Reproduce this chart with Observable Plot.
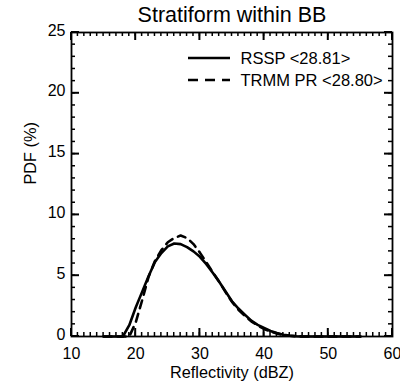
<!DOCTYPE html>
<html>
<head>
<meta charset="utf-8">
<script src="https://cdn.jsdelivr.net/npm/d3@7"></script>
<script src="https://cdn.jsdelivr.net/npm/@observablehq/plot@0.6"></script>
<style>
  html, body { margin: 0; padding: 0; background: #fff; }
  svg { display: block; }
</style>
</head>
<body>
<div id="chart"></div>
<script>
const title = "Stratiform within BB";
const xLabel = "Reflectivity (dBZ)";
const yLabel = "PDF (%)";
const seriesNames = ["RSSP <28.81>", "TRMM PR <28.80>"];
const xTicks = [10, 20, 30, 40, 50, 60];
const yTicks = [0, 5, 10, 15, 20, 25];

const dbz = [15,16,17,18,19,20,21,22,23,24,25,26,27,28,29,30,31,32,33,34,35,36,37,38,39,40,41,42,43,44,45,46,47,48,49,50,51,52,53,54,55];
const rssp = [0,0,0,0,0.93,2.39,3.67,4.96,6.13,6.86,7.41,7.65,7.6,7.35,7.0,6.55,5.95,5.25,4.5,3.7,2.9,2.3,1.8,1.3,0.95,0.7,0.45,0.28,0.15,0.07,0.02,0,0,0,0,0,0,0,0,0,0];
const trmm = [0,0,0,0,0,1.15,2.97,4.9,6.2,7.1,7.75,8.1,8.3,8.1,7.6,6.9,6.1,5.3,4.5,3.65,2.85,2.2,1.7,1.25,0.9,0.62,0.4,0.24,0.13,0.06,0.02,0,0,0,0,0,0,0,0,0,0];

const rowsR = dbz.map((x, i) => ({x, y: rssp[i]}));
const rowsT = dbz.map((x, i) => ({x, y: trmm[i]}));

const W = 400, H = 389, mL = 71, mR = 8, mT = 32, mB = 53;
const xDom = [10, 60], yDom = [0, 25];
const font = "Liberation Sans, Arial, sans-serif";
const minorX = d3.range(10, 61, 1);
const minorY = d3.range(0, 26, 1);

const plot = Plot.plot({
  width: W,
  height: H,
  marginLeft: mL,
  marginRight: mR,
  marginTop: mT,
  marginBottom: mB,
  style: {fontFamily: font, fontSize: "16px", background: "#fff", color: "#000"},
  x: {domain: xDom},
  y: {domain: yDom},
  marks: [
    Plot.axisX({anchor: "bottom", ticks: xTicks, tickSize: 0, tickPadding: 11, label: null, fontSize: 16}),
    Plot.axisY({anchor: "left", ticks: yTicks, tickSize: 0, tickPadding: 6, label: null, fontSize: 16, dy: -2}),
    Plot.line(rowsR, {x: "x", y: "y", stroke: "#000", strokeWidth: 2.6}),
    Plot.line(rowsT, {x: "x", y: "y", stroke: "#000", strokeWidth: 2.6, strokeDasharray: "8,6"}),
    Plot.frame({stroke: "#000", fill: "none", strokeWidth: 1.8}),
    Plot.text([title], {text: d => d, frameAnchor: "top", lineAnchor: "middle", dy: -17, fontSize: 21.5}),
    Plot.text([xLabel], {text: d => d, frameAnchor: "bottom", lineAnchor: "middle", dy: 36, fontSize: 16.3}),
    Plot.text([yLabel], {text: d => d, frameAnchor: "left", lineAnchor: "middle", dx: -41, rotate: -90, fontSize: 16.3}),
    Plot.text([seriesNames[0]], {text: d => d, frameAnchor: "top-left", lineAnchor: "middle", dx: 169, dy: 26, textAnchor: "start", fontSize: 16.5}),
    Plot.text([seriesNames[1]], {text: d => d, frameAnchor: "top-left", lineAnchor: "middle", dx: 169, dy: 48, textAnchor: "start", fontSize: 16.5}),
  ]
});

document.getElementById("chart").appendChild(plot);

const svg = d3.select(plot);
const sx = plot.scale("x"), sy = plot.scale("y");
const x0 = sx.apply(xDom[0]), x1 = sx.apply(xDom[1]);
const y0 = sy.apply(yDom[0]), y1 = sy.apply(yDom[1]);

// inward ticks on all four sides, positioned with Plot's own scales
const tg = svg.append("g").attr("stroke", "#000");
function addTicks(xv, yv, len, sw) {
  xv.forEach(v => {
    const px = sx.apply(v);
    tg.append("line").attr("x1", px).attr("x2", px).attr("y1", y0).attr("y2", y0 - len).attr("stroke-width", sw);
    tg.append("line").attr("x1", px).attr("x2", px).attr("y1", y1).attr("y2", y1 + len).attr("stroke-width", sw);
  });
  yv.forEach(v => {
    const py = sy.apply(v);
    tg.append("line").attr("y1", py).attr("y2", py).attr("x1", x0).attr("x2", x0 + len).attr("stroke-width", sw);
    tg.append("line").attr("y1", py).attr("y2", py).attr("x1", x1).attr("x2", x1 - len).attr("stroke-width", sw);
  });
}
addTicks(minorX, minorY, 4, 1.5);
addTicks(xTicks, yTicks, 8, 2);

// legend line samples
const legendY = [58, 80];
const legendDash = [null, "10,7"];
legendY.forEach((ly, i) => {
  svg.append("line")
    .attr("x1", 188).attr("x2", 230).attr("y1", ly).attr("y2", ly)
    .attr("stroke", "#000").attr("stroke-width", 2.6)
    .attr("stroke-dasharray", legendDash[i]);
});
</script>
</body>
</html>
